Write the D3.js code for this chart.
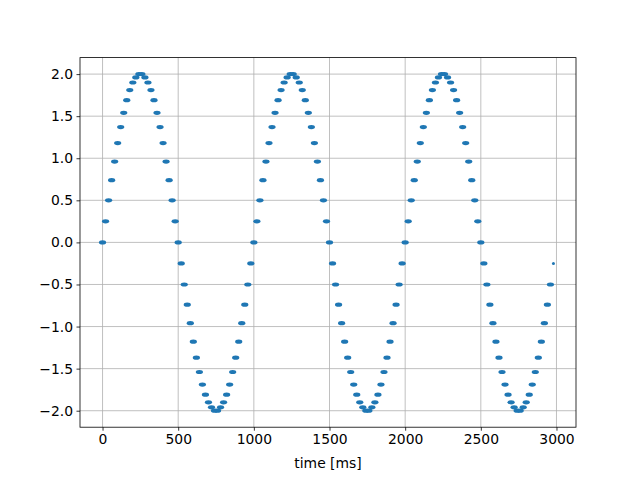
<!DOCTYPE html>
<html>
<head>
<meta charset="utf-8">
<script src="https://cdn.jsdelivr.net/npm/d3@7"></script>
<style>
  body { margin: 0; background: #fff; }
  svg text { font-family: "DejaVu Sans", sans-serif; }
</style>
</head>
<body>
<div id="chart"></div>
<script>
// sample times [ms]
const times = [
  0, 20, 40, 60, 80, 100, 120, 140, 160, 180, 200, 220, 240, 260, 280, 300, 320, 340, 360, 380,
  400, 420, 440, 460, 480, 500, 520, 540, 560, 580, 600, 620, 640, 660, 680, 700, 720, 740, 760, 780,
  800, 820, 840, 860, 880, 900, 920, 940, 960, 980, 1000, 1020, 1040, 1060, 1080, 1100, 1120, 1140, 1160, 1180,
  1200, 1220, 1240, 1260, 1280, 1300, 1320, 1340, 1360, 1380, 1400, 1420, 1440, 1460, 1480, 1500, 1520, 1540, 1560, 1580,
  1600, 1620, 1640, 1660, 1680, 1700, 1720, 1740, 1760, 1780, 1800, 1820, 1840, 1860, 1880, 1900, 1920, 1940, 1960, 1980,
  2000, 2020, 2040, 2060, 2080, 2100, 2120, 2140, 2160, 2180, 2200, 2220, 2240, 2260, 2280, 2300, 2320, 2340, 2360, 2380,
  2400, 2420, 2440, 2460, 2480, 2500, 2520, 2540, 2560, 2580, 2600, 2620, 2640, 2660, 2680, 2700, 2720, 2740, 2760, 2780,
  2800, 2820, 2840, 2860, 2880, 2900, 2920, 2940, 2960
]
// signal values
const values = [
  0, 0.25, 0.50, 0.74, 0.96, 1.18, 1.37, 1.54, 1.69, 1.81, 1.90, 1.96, 2.00, 2.00, 1.96, 1.90, 1.81, 1.69, 1.54, 1.37,
  1.18, 0.96, 0.74, 0.50, 0.25, 0, -0.25, -0.50, -0.74, -0.96, -1.18, -1.37, -1.54, -1.69, -1.81, -1.90, -1.96, -2.00, -2.00, -1.96,
  -1.90, -1.81, -1.69, -1.54, -1.37, -1.18, -0.96, -0.74, -0.50, -0.25,
  0, 0.25, 0.50, 0.74, 0.96, 1.18, 1.37, 1.54, 1.69, 1.81, 1.90, 1.96, 2.00, 2.00, 1.96, 1.90, 1.81, 1.69, 1.54, 1.37,
  1.18, 0.96, 0.74, 0.50, 0.25, 0, -0.25, -0.50, -0.74, -0.96, -1.18, -1.37, -1.54, -1.69, -1.81, -1.90, -1.96, -2.00, -2.00, -1.96,
  -1.90, -1.81, -1.69, -1.54, -1.37, -1.18, -0.96, -0.74, -0.50, -0.25,
  0, 0.25, 0.50, 0.74, 0.96, 1.18, 1.37, 1.54, 1.69, 1.81, 1.90, 1.96, 2.00, 2.00, 1.96, 1.90, 1.81, 1.69, 1.54, 1.37,
  1.18, 0.96, 0.74, 0.50, 0.25, 0, -0.25, -0.50, -0.74, -0.96, -1.18, -1.37, -1.54, -1.69, -1.81, -1.90, -1.96, -2.00, -2.00, -1.96,
  -1.90, -1.81, -1.69, -1.54, -1.37, -1.18, -0.96, -0.74, -0.50
]
// last sample, drawn as a small dot
const lastTime = [2980]
const lastValue = [-0.25]

const xTicks = [0, 500, 1000, 1500, 2000, 2500, 3000]
const yTicks = [-2.0, -1.5, -1.0, -0.5, 0.0, 0.5, 1.0, 1.5, 2.0]
const xLabel = "time [ms]"

// dimensions (matplotlib default axes box)
let margin = { top: 57.6, right: 64, bottom: 52.8, left: 80 },
    width = 640 - margin.left - margin.right,
    height = 480 - margin.top - margin.bottom

let x = d3.scaleLinear().domain([-149, 3129]).range([0, width])
let y = d3.scaleLinear().domain([-2.196, 2.196]).range([height, 0])

let svg = d3.select("#chart")
    .append("svg")
    .attr("width", 640)
    .attr("height", 480)
    .append("g")
    .attr("transform", "translate(" + margin.left + "," + margin.top + ")")

// grille
svg.append("g")
    .selectAll("line")
    .data(xTicks)
    .join("line")
    .attr("x1", d => x(d)).attr("x2", d => x(d))
    .attr("y1", 0).attr("y2", height)
    .attr("stroke", "#b0b0b0").attr("stroke-width", 0.8)

svg.append("g")
    .selectAll("line")
    .data(yTicks)
    .join("line")
    .attr("x1", 0).attr("x2", width)
    .attr("y1", d => y(d)).attr("y2", d => y(d))
    .attr("stroke", "#b0b0b0").attr("stroke-width", 0.8)

// points
const pts = times.map((t, i) => ({ t: t, v: values[i] }))
svg.append("g")
    .selectAll("ellipse")
    .data(pts)
    .join("ellipse")
    .attr("cx", d => x(d.t))
    .attr("cy", d => y(d.v))
    .attr("rx", 3.6)
    .attr("ry", 2.1)
    .attr("fill", "#1f77b4")

svg.append("g")
    .selectAll("circle")
    .data(lastTime.map((t, i) => ({ t: t, v: lastValue[i] })))
    .join("circle")
    .attr("cx", d => x(d.t))
    .attr("cy", d => y(d.v))
    .attr("r", 1.5)
    .attr("fill", "#1f77b4")

// axes
let xAxis = svg.append("g")
    .attr("transform", "translate(0," + height + ")")
    .call(d3.axisBottom(x).tickValues(xTicks).tickFormat(d3.format("d")).tickSize(3.5).tickPadding(3.5))
let yAxis = svg.append("g")
    .call(d3.axisLeft(y).tickValues(yTicks).tickFormat(d3.format(".1f")).tickSize(3.5).tickPadding(3.5))

;[xAxis, yAxis].forEach(a => {
    a.select(".domain").remove()
    a.selectAll(".tick line").attr("stroke", "#000").attr("stroke-width", 0.8)
    a.selectAll(".tick text")
        .attr("fill", "#000")
        .style("font-size", "13.9px")
        .style("font-family", "DejaVu Sans")
})
yAxis.selectAll(".tick text").text(d => d < 0 ? "\u2212" + d3.format(".1f")(-d) : d3.format(".1f")(d))

// cadre
svg.append("rect")
    .attr("width", width).attr("height", height)
    .attr("fill", "none").attr("stroke", "#000").attr("stroke-width", 0.8)

svg.append("text")
    .attr("x", width / 2)
    .attr("y", height + 41)
    .attr("text-anchor", "middle")
    .style("font-size", "13.9px")
    .text(xLabel)
</script>
</body>
</html>
